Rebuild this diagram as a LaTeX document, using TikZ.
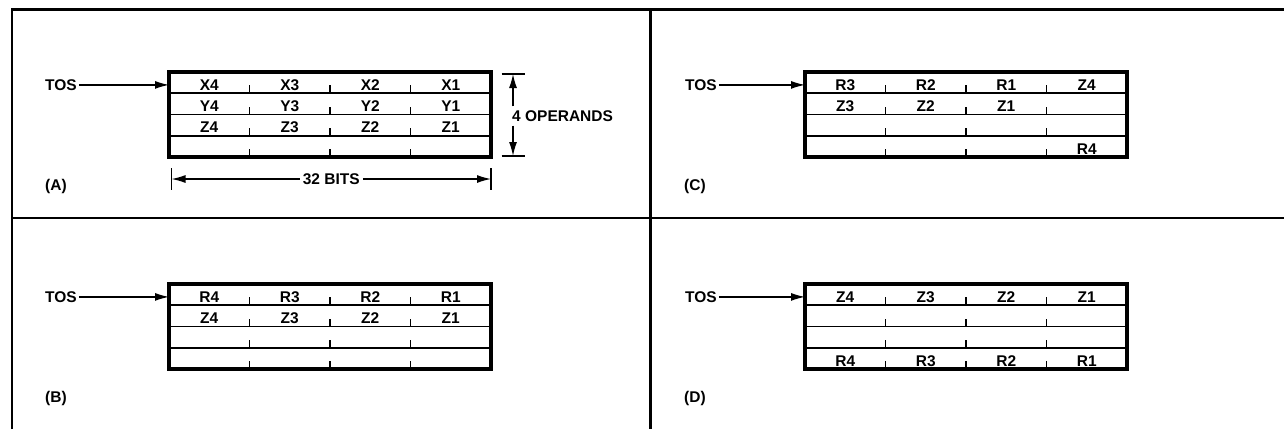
\documentclass[tikz,border=0pt]{standalone}
\usepackage{fontspec}
\setmainfont{Liberation Sans}
\usetikzlibrary{arrows.meta, positioning, calc}

\begin{document}
\begin{tikzpicture}[x=1pt, y=-1pt,
    frame/.style={line width=2.8pt},
    reg/.style={draw, line width=3.2pt, minimum width=322pt, minimum height=85pt, inner sep=0pt, outer sep=0pt, anchor=north west},
    rowline/.style={line width=1.6pt},
    tickline/.style={line width=1.1pt},
    lbl/.style={font=\bfseries\fontsize{15.5}{16}\selectfont, inner sep=0pt},
    ptr/.style={-{Latex[length=14pt, width=8pt]}, line width=1.3pt}
  ]
  \useasboundingbox (0,0) rectangle (1284,429);

  % Frame
  \draw[frame] (12,429) -- (12,9.5) -- (1284,9.5);
  \draw[frame] (650.5,9.5) -- (650.5,429);
  \draw[frame] (12,218) -- (1284,218);

  % Registers
  \node[reg] (regA) at (169,72) {};
  \node[reg] (regB) at (169,284) {};
  \node[reg] (regC) at (805,72) {};
  \node[reg] (regD) at (805,284) {};

  \foreach \b in {regA,regB,regC,regD} {
    \foreach \r in {1,2,3}
      \draw[rowline] ($(\b.north west)+(0,\r*21.25)$) -- ($(\b.north east)+(0,\r*21.25)$);
    \foreach \r in {1,...,4}
      \foreach \c in {1,2,3}
        \draw[tickline] ($(\b.north west)+(\c*80.5,\r*21.25)$) -- ++(0,-8);
  }

  % Cell contents
  \foreach \r/\c/\t in {0/0/X4,0/1/X3,0/2/X2,0/3/X1,1/0/Y4,1/1/Y3,1/2/Y2,1/3/Y1,2/0/Z4,2/1/Z3,2/2/Z2,2/3/Z1}
    \node[lbl, anchor=base] (A-\r-\c) at ($(regA.north west)+(\c*80.5+40.25,\r*21.25+18.25)$) {\t};
  \foreach \r/\c/\t in {0/0/R4,0/1/R3,0/2/R2,0/3/R1,1/0/Z4,1/1/Z3,1/2/Z2,1/3/Z1}
    \node[lbl, anchor=base] (B-\r-\c) at ($(regB.north west)+(\c*80.5+40.25,\r*21.25+18.25)$) {\t};
  \foreach \r/\c/\t in {0/0/R3,0/1/R2,0/2/R1,0/3/Z4,1/0/Z3,1/1/Z2,1/2/Z1,3/3/R4}
    \node[lbl, anchor=base] (C-\r-\c) at ($(regC.north west)+(\c*80.5+40.25,\r*21.25+18.25)$) {\t};
  \foreach \r/\c/\t in {0/0/Z4,0/1/Z3,0/2/Z2,0/3/Z1,3/0/R4,3/1/R3,3/2/R2,3/3/R1}
    \node[lbl, anchor=base] (D-\r-\c) at ($(regD.north west)+(\c*80.5+40.25,\r*21.25+18.25)$) {\t};

  % TOS pointers
  \node[lbl, anchor=base west] (tosA) at (45,90.25) {TOS};
  \node[lbl, anchor=base west] (tosB) at (45,302.25) {TOS};
  \node[lbl, anchor=base west] (tosC) at (685,90.25) {TOS};
  \node[lbl, anchor=base west] (tosD) at (685,302.25) {TOS};
  \foreach \p in {A,B,C,D}
    \draw[ptr, shorten <=2pt] (tos\p.east) -- (tos\p.east -| reg\p.west);

  % Panel labels
  \node[lbl, anchor=west] (capA) at (45,186) {(A)};
  \node[lbl, anchor=west] (capB) at (45,398) {(B)};
  \node[lbl, anchor=west] (capC) at (684,186) {(C)};
  \node[lbl, anchor=west] (capD) at (684,398) {(D)};

  % 4 operands
  \coordinate (opTop) at ($(regA.north east)+(22,2)$);
  \coordinate (opBot) at ($(regA.south east)+(22,-1)$);
  \node[lbl, anchor=west] (ops) at ($(regA.east)+(21,1.5)$) {4 OPERANDS};
  \draw[tickline] ([xshift=-11.5pt]opTop) -- ([xshift=11.5pt]opTop);
  \draw[tickline] ([xshift=-11.5pt]opBot) -- ([xshift=11.5pt]opBot);
  \draw[ptr, shorten <=4pt] (ops.north -| opTop) -- (opTop);
  \draw[ptr, shorten <=4pt] (ops.south -| opBot) -- (opBot);

  % 32 bits
  \coordinate (bitL) at ($(regA.south west)+(2.5,22)$);
  \coordinate (bitR) at ($(regA.south east)+(0,22)$);
  \node[lbl] (bits) at ($(bitL)!0.5!(bitR)$) {32 BITS};
  \draw[tickline] ([yshift=11pt]bitL) -- ([yshift=-11pt]bitL);
  \draw[tickline] ([yshift=11pt]bitR) -- ([yshift=-11pt]bitR);
  \draw[ptr, shorten <=3pt] (bits.west) -- (bitL);
  \draw[ptr, shorten <=3pt] (bits.east) -- (bitR);
\end{tikzpicture}
\end{document}
